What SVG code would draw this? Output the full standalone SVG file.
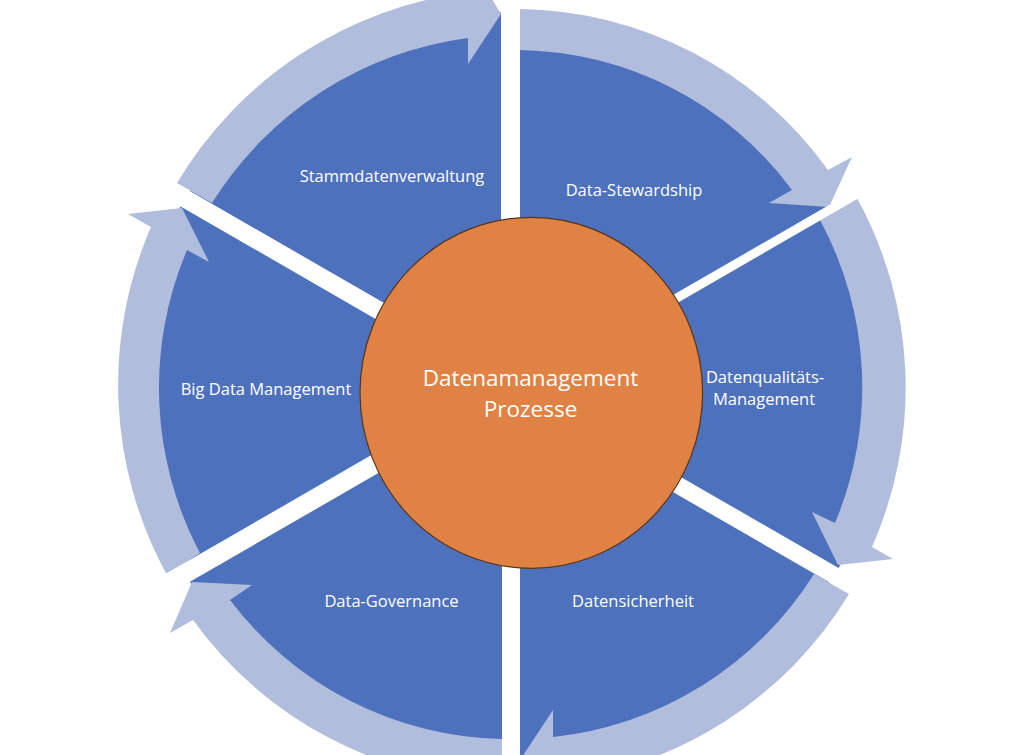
<svg xmlns="http://www.w3.org/2000/svg" width="1030" height="755" viewBox="0 0 1030 755">
<defs>
<style>
.seg{fill:#4E71BD}
.arr{fill:#B1BDDC}
.sep{stroke:#FFFFFF;fill:none;stroke-linecap:butt}
.lbl{font-family:"Open Sans","Noto Sans","Liberation Sans",sans-serif;font-size:16.5px;fill:#FFFFFF;text-anchor:middle}
.ctr{font-family:"Open Sans","Noto Sans","Liberation Sans",sans-serif;font-size:22.5px;fill:#FFFFFF;text-anchor:middle}
</style>
</defs>
<rect width="1030" height="755" fill="#FFFFFF"/>
<g id="node-stammdatenverwaltung">
<path class="seg" d="M511 390 L183.6 201 A378 378 0 0 1 511 12 Z"/>
<text class="lbl" x="392" y="182">Stammdatenverwaltung</text>
</g>
<g id="node-data-stewardship">
<path class="seg" d="M511 390 L511 20 A370 370 0 0 1 831.4 205 Z"/>
<text class="lbl" x="634" y="196">Data-Stewardship</text>
</g>
<g id="node-datenqualitaet">
<path class="seg" d="M511 390 L834 203.5 A373 373 0 0 1 834 576.5 Z"/>
<text class="lbl" x="765" y="383">Datenqualitäts-</text>
<text class="lbl" x="764" y="405">Management</text>
</g>
<g id="node-datensicherheit">
<path class="seg" d="M511 390 L833.2 576 A372 372 0 0 1 511 762 Z"/>
<text class="lbl" x="633" y="607">Datensicherheit</text>
</g>
<g id="node-data-governance">
<path class="seg" d="M511 390 L511 764 A374 374 0 0 1 187.1 577 Z"/>
<text class="lbl" x="391.5" y="607">Data-Governance</text>
</g>
<g id="node-big-data">
<path class="seg" d="M511 390 L183.6 579 A378 378 0 0 1 183.6 201 Z"/>
<text class="lbl" x="266" y="395">Big Data Management</text>
</g>
<g id="connectors">
<path class="arr" d="M177 183 A398 398 0 0 1 470 -8 L472 -34 L501 14 L468 64 L468 38 A357 357 0 0 0 212 203 Z"/>
<path class="arr" d="M520 9 A385 385 0 0 1 828 170 L852 157 L829 207 L769 203 L792 190 A345 345 0 0 0 520 50 Z"/>
<path class="arr" d="M857 198 A394 394 0 0 1 872 547 L893 559 L838 565 L812 512 L835 523 A352 352 0 0 0 820 220 Z"/>
<path class="arr" d="M849 594 A394 394 0 0 1 558 781 L561 806 L520 760 L553 710 L553 737 A352 352 0 0 0 814 574 Z"/>
<path class="arr" d="M502 783 A394 394 0 0 1 193 620 L170 633 L192 582 L252 585 L230 600 A350 350 0 0 0 502 739 Z"/>
<path class="arr" d="M167 575 A395 395 0 0 1 151 227 L128 214 L182 208 L209 262 L187 250 A353 353 0 0 0 200 553 Z"/>
</g>
<g id="separators">
<line class="sep" x1="510.5" y1="-5" x2="510.5" y2="240" stroke-width="19"/>
<line class="sep" x1="511" y1="550" x2="511" y2="760" stroke-width="18"/>
<line class="sep" x1="650" y1="313.5" x2="885" y2="177.9" stroke-width="9"/>
<line class="sep" x1="650" y1="469" x2="885" y2="604.6" stroke-width="17"/>
<line class="sep" x1="400" y1="449.6" x2="140" y2="599.6" stroke-width="19"/>
<line class="sep" x1="400" y1="322.6" x2="140" y2="172.6" stroke-width="18"/>
</g>
<g id="node-center">
<ellipse cx="531.3" cy="392.8" rx="171.3" ry="175.5" fill="#DF8243" stroke="#5A3417" stroke-width="1.2"/>
<text class="ctr" x="530.5" y="386">Datenamanagement</text>
<text class="ctr" x="530.5" y="416.5">Prozesse</text>
</g>
</svg>
